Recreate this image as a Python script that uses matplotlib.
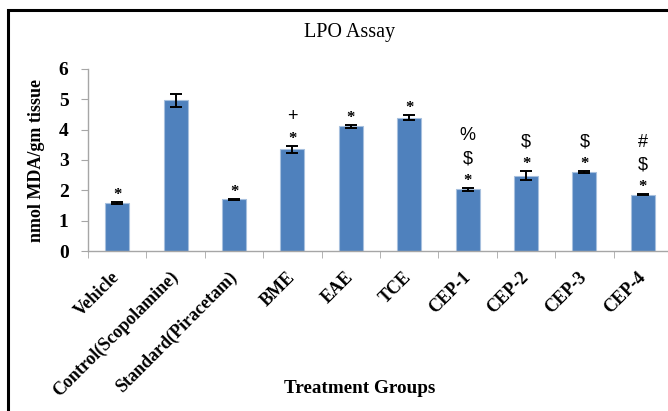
import matplotlib

matplotlib.use("Agg")
import matplotlib.pyplot as plt
import numpy as np
from matplotlib.patches import Rectangle

plt.rcParams["font.family"] = ["Liberation Serif", "DejaVu Serif"]

groups = ["Vehicle", "Control(Scopolamine)", "Standard(Piracetam)", "BME", "EAE",
          "TCE", "CEP-1", "CEP-2", "CEP-3", "CEP-4"]
lpo_mean = [1.58, 4.97, 1.70, 3.35, 4.11, 4.40, 2.03, 2.48, 2.60, 1.85]
lpo_err = [0.03, 0.22, 0.03, 0.11, 0.04, 0.08, 0.05, 0.15, 0.03, 0.02]
# significance marks, listed bottom to top
marks = [["*"], [], ["*"], ["*", "+"], ["*"], ["*"],
         ["*", "$", "%"], ["*", "$"], ["*", "$"], ["*", "$", "#"]]

fig = plt.figure(figsize=(6.68, 4.11), dpi=100)
ax = fig.add_axes([88 / 668, 160 / 411, 584 / 668, 182 / 411])

x = np.arange(len(groups))
ax.bar(x, lpo_mean, width=0.41, color="#4F81BD", edgecolor="#A7C0DE", linewidth=0.8,
       yerr=lpo_err, error_kw=dict(ecolor="black", elinewidth=1.4, capsize=4, capthick=1.4))

# symbols above each bar
offsets = [8, 21, 37.5]
for i, sym in enumerate(marks):
    top = lpo_mean[i] + lpo_err[i]
    for j, s in enumerate(sym):
        if s == "*":
            kw = dict(fontsize=12, family=["Liberation Serif"], fontweight="bold")
            dy = offsets[j] - 3
        else:
            kw = dict(fontsize=13, family=["Liberation Sans"])
            dy = offsets[j]
        ax.annotate(s, (x[i], top), xytext=(0, dy), textcoords="offset points",
                    ha="center", va="center", **kw)

ax.set_xlim(-0.5, len(groups) - 0.5)
ax.set_ylim(0, 6)
ax.set_yticks(range(0, 7))
ax.set_xticks(x)
ax.set_xticks(np.arange(-0.5, len(groups), 1.0), minor=True)
ax.set_xticklabels(groups, rotation=45, ha="right", va="center", rotation_mode="anchor",
                   fontsize=13, fontweight="bold")
for lab in ax.get_yticklabels():
    lab.set_fontweight("bold")
    lab.set_fontsize(14)
ax.tick_params(axis="x", which="major", length=0, pad=17)
ax.tick_params(axis="x", which="minor", length=5, color="#a6a6a6", direction="out")
ax.tick_params(axis="y", length=5, color="#a6a6a6", direction="out", pad=9)

for side in ["top", "right"]:
    ax.spines[side].set_visible(False)
for side in ["left", "bottom"]:
    ax.spines[side].set_color("#a6a6a6")
    ax.spines[side].set_linewidth(1.0)

ax.set_ylabel("nmol MDA/gm tissue", fontsize=13, fontweight="bold", labelpad=10)
fig.text(350 / 668, 1 - 33 / 411, "LPO Assay", fontsize=14.5, ha="center", va="center")
fig.text(360 / 668, 1 - 388 / 411, "Treatment Groups", fontsize=13.8, fontweight="bold",
         ha="center", va="center")

# outer frame (cut off at right and bottom)
fig.patches.append(Rectangle((8 / 668, -0.1), 1.2, 1 - 10 / 411 + 0.1,
                             transform=fig.transFigure, fill=False,
                             edgecolor="black", linewidth=2.2))

fig.savefig("out.png", dpi=100)
